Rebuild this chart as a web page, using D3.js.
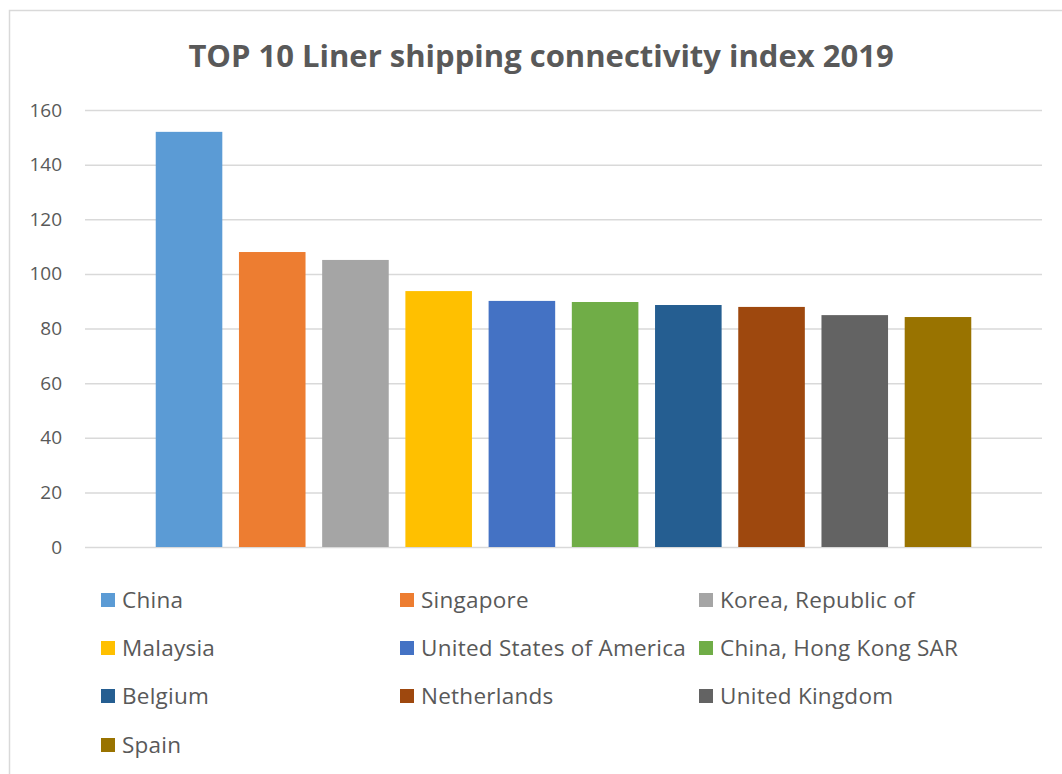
<!DOCTYPE html>
<html>
<head>
<meta charset="utf-8">
<script src="https://cdn.jsdelivr.net/npm/d3@7"></script>
<style>
  html, body { margin: 0; padding: 0; background: #fff; }
  svg { display: block; }
  text { font-family: "Open Sans", "Noto Sans", sans-serif; fill: #595959; }
</style>
</head>
<body>
<svg id="chart" width="1062" height="774"></svg>
<script>
// Liner shipping connectivity index, 2019 – top 10 economies
const countries = [
  "China", "Singapore", "Korea, Republic of", "Malaysia",
  "United States of America", "China, Hong Kong SAR",
  "Belgium", "Netherlands", "United Kingdom", "Spain"
];
const lsci = [152.0, 108.0, 105.1, 93.7, 90.1, 89.7, 88.6, 87.9, 84.9, 84.2];
const barColors = [
  "#5B9BD5", "#ED7D31", "#A5A5A5", "#FFC000", "#4472C4",
  "#70AD47", "#255E91", "#9E480E", "#636363", "#997300"
];
const yTicks = [0, 20, 40, 60, 80, 100, 120, 140, 160];
const title = "TOP 10 Liner shipping connectivity index 2019";

const svg = d3.select("#chart");
const W = 1062, H = 774;

// outer chart frame
svg.append("rect")
  .attr("x", 9.5).attr("y", 10.5)
  .attr("width", W + 20).attr("height", H + 20)
  .attr("fill", "#fff")
  .attr("stroke", "#d9d9d9").attr("stroke-width", 1.5);

const plot = { left: 85, right: 1042, top: 110, bottom: 547 };

const y = d3.scaleLinear().domain([0, 160]).range([plot.bottom, plot.top]);
const x = d3.scaleBand()
  .domain(countries)
  .range([plot.left, plot.right])
  .paddingInner(0.2)
  .paddingOuter(0.85);
const color = d3.scaleOrdinal().domain(countries).range(barColors);

// title
svg.append("text")
  .attr("x", 541).attr("y", 67)
  .attr("text-anchor", "middle")
  .attr("font-size", 31)
  .attr("font-weight", "bold")
  .text(title);

// horizontal gridlines + value axis labels
const yAxis = d3.axisLeft(y)
  .tickValues(yTicks)
  .tickSize(-(plot.right - plot.left))
  .tickPadding(23);
const gy = svg.append("g")
  .attr("transform", `translate(${plot.left},0)`)
  .call(yAxis);
gy.select(".domain").remove();
gy.selectAll(".tick line").attr("stroke", "#d9d9d9").attr("stroke-width", 1.5);
gy.selectAll(".tick text")
  .attr("font-size", 19)
  .attr("font-family", "'Open Sans', sans-serif")
  .attr("fill", "#595959");

// bars
svg.append("g")
  .selectAll("rect")
  .data(countries)
  .join("rect")
  .attr("x", d => x(d))
  .attr("width", x.bandwidth())
  .attr("y", (d, i) => y(lsci[i]))
  .attr("height", (d, i) => y(0) - y(lsci[i]))
  .attr("fill", d => color(d));

// legend: three columns
const leg = svg.append("g");
const colX = [101, 400, 699];
const rowY = [600, 648, 696, 745];
const items = leg.selectAll("g")
  .data(countries)
  .join("g")
  .attr("transform", (d, i) => `translate(${colX[i % 3]},${rowY[Math.floor(i / 3)]})`);
items.append("rect")
  .attr("x", 0).attr("y", -7)
  .attr("width", 14).attr("height", 14)
  .attr("fill", d => color(d));
items.append("text")
  .attr("x", 21).attr("y", 0)
  .attr("dy", "0.35em")
  .attr("font-size", 22.5)
  .attr("letter-spacing", 0.25)
  .text(d => d);
</script>
</body>
</html>
